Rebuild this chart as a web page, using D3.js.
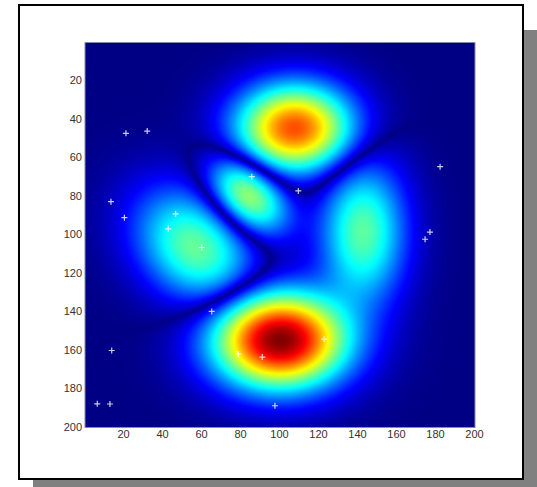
<!DOCTYPE html>
<html>
<head>
<meta charset="utf-8">
<script src="https://cdnjs.cloudflare.com/ajax/libs/d3/7.8.5/d3.min.js"></script>
<style>
  body { margin: 0; background: #fff; }
  svg { display: block; }
</style>
</head>
<body>
<svg width="537" height="487"></svg>
<script>
// lobes of the field (column, row, signed height, spread, tilt)
const blobCol   = [108, 100.5, 84, 57, 143];
const blobRow   = [45, 155, 80, 107, 99];
const blobAmp   = [0.74, -1.0, -0.45, 0.37, -0.36];
const blobSpreadU = [19, 21.5, 15.5, 22, 14];
const blobSpreadV = [14.5, 15.7, 10.5, 16.5, 24];
const blobTilt  = [0, 0, 45, 45, 0];
const gammaExp = 0.75;   // display compression of |value|

// white crosses
const markCol = [21.5, 32.4, 86, 109.9, 182.6, 13.8, 20.7, 47, 43.2, 60.3, 177.4, 174.9, 65.5, 91.4, 97.9, 14.2, 6.8, 13.3, 79.1, 123.1];
const markRow = [47.7, 46.5, 70.2, 77.6, 65, 83.2, 91.5, 89.5, 97.3, 107, 99, 102.7, 140.2, 163.9, 189.2, 160.5, 188.2, 188.3, 162.3, 154.6];

const xTicks = [20, 40, 60, 80, 100, 120, 140, 160, 180, 200];
const yTicks = [20, 40, 60, 80, 100, 120, 140, 160, 180, 200];
const gridSize = 200;

const svg = d3.select("svg");

// shadow + white frame
svg.append("rect")
    .attr("x", 33).attr("y", 30)
    .attr("width", 520).attr("height", 480)
    .attr("fill", "#808080");
svg.append("rect")
    .attr("x", 19).attr("y", 5)
    .attr("width", 504).attr("height", 474)
    .attr("fill", "#fff")
    .attr("stroke", "#000")
    .attr("stroke-width", 2);

const x = d3.scaleLinear().domain([0.5, 200.5]).range([85, 475]);
const y = d3.scaleLinear().domain([0.5, 200.5]).range([42.5, 427.5]);

// jet colormap
const jet = d3.scaleLinear()
    .domain([0, 0.125, 0.375, 0.625, 0.875, 1])
    .range(["#000084", "#0000ff", "#00ffff", "#ffff00", "#ff0000", "#800000"])
    .clamp(true);

function field(c, r) {
    let f = 0;
    for (let i = 0; i < blobCol.length; i++) {
        const t = blobTilt[i] * Math.PI / 180;
        const dx = c - blobCol[i], dy = r - blobRow[i];
        const u = (dx * Math.cos(t) + dy * Math.sin(t)) / blobSpreadU[i];
        const v = (-dx * Math.sin(t) + dy * Math.cos(t)) / blobSpreadV[i];
        f += blobAmp[i] * Math.exp(-(u * u + v * v) / 2);
    }
    return Math.pow(Math.abs(f), gammaExp);
}

const values = [];
for (let r = 1; r <= gridSize; r++)
    for (let c = 1; c <= gridSize; c++)
        values.push(field(c, r));
const vmax = d3.max(values);
const color = v => jet(v / vmax);

const canvas = document.createElement("canvas");
canvas.width = gridSize; canvas.height = gridSize;
const ctx = canvas.getContext("2d");
const img = ctx.createImageData(gridSize, gridSize);
values.forEach((v, i) => {
    const col = d3.rgb(color(v));
    img.data[i * 4] = col.r;
    img.data[i * 4 + 1] = col.g;
    img.data[i * 4 + 2] = col.b;
    img.data[i * 4 + 3] = 255;
});
ctx.putImageData(img, 0, 0);

svg.append("image")
    .attr("href", canvas.toDataURL())
    .attr("x", x(0.5)).attr("y", y(0.5))
    .attr("width", x(200.5) - x(0.5))
    .attr("height", y(200.5) - y(0.5))
    .attr("preserveAspectRatio", "none");

svg.append("rect")
    .attr("x", x(0.5)).attr("y", y(0.5))
    .attr("width", x(200.5) - x(0.5))
    .attr("height", y(200.5) - y(0.5))
    .attr("fill", "none")
    .attr("stroke", "#8888aa")
    .attr("stroke-width", 1);

// crosses
svg.append("g")
    .selectAll("path")
    .data(markCol)
    .enter()
    .append("path")
    .attr("d", (d, i) => {
        const px = x(d), py = y(markRow[i]);
        return `M${px - 3},${py}H${px + 3}M${px},${py - 3}V${py + 3}`;
    })
    .attr("stroke", "#fff")
    .attr("stroke-opacity", 0.8)
    .attr("stroke-width", 1.2);

const font = "'Liberation Sans Narrow', 'Arial Narrow', Arial, sans-serif";

svg.append("g")
    .attr("transform", `translate(0,${y(200.5)})`)
    .call(d3.axisBottom(x).tickValues(xTicks).tickSize(0).tickPadding(3))
    .call(g => g.select(".domain").remove())
    .selectAll("text")
    .attr("font-family", font)
    .attr("font-size", 11)
    .attr("fill", "#333");

svg.append("g")
    .attr("transform", `translate(${x(0.5)},0)`)
    .call(d3.axisLeft(y).tickValues(yTicks).tickSize(0).tickPadding(3))
    .call(g => g.select(".domain").remove())
    .selectAll("text")
    .attr("font-family", font)
    .attr("font-size", 11)
    .attr("fill", "#333");
</script>
</body>
</html>
